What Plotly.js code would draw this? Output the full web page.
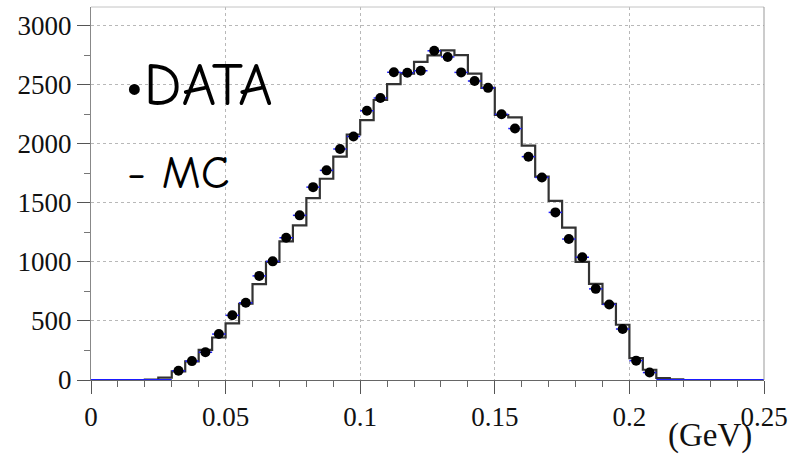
<!DOCTYPE html>
<html>
<head>
<meta charset="utf-8">
<script src="https://cdn.plot.ly/plotly-3.0.1.min.js"></script>
<style>
  html, body { margin: 0; padding: 0; background: #fff; }
  #chart { width: 791px; height: 456px; }
</style>
</head>
<body>
<div id="chart"></div>
<script>
// Histogram binning (GeV)
const xMin = 0;
const binWidth = 0.005;
const nBins = 50;

// Monte Carlo expectation, one value per bin
const mcCounts = [
  0, 0, 0, 0, 3, 20, 73, 157, 256, 360,
  479, 646, 812, 1000, 1175, 1310, 1540, 1705, 1892, 2080,
  2202, 2372, 2507, 2595, 2695, 2750, 2792, 2752, 2595, 2474,
  2245, 2225, 1985, 1723, 1517, 1291, 1000, 815, 645, 468,
  186, 87, 17, 5, 0, 0, 0, 0, 0, 0
];

// Measured data, one value per bin
const dataCounts = [
  0, 0, 0, 0, 0, 0, 78, 160, 235, 389,
  548, 654, 882, 1005, 1205, 1395, 1634, 1776, 1957, 2063,
  2281, 2389, 2607, 2603, 2620, 2789, 2737, 2606, 2533, 2475,
  2251, 2130, 1892, 1716, 1420, 1194, 1040, 772, 640, 432,
  164, 63, 0, 0, 0, 0, 0, 0, 0, 0
];

// Axis tick labels
const xTickVals = [0, 0.05, 0.1, 0.15, 0.2, 0.25];
const xTickText = ['0', '0.05', '0.1', '0.15', '0.2', '0.25'];
const yTickVals = [0, 500, 1000, 1500, 2000, 2500, 3000];
const yTickText = ['0', '500', '1000', '1500', '2000', '2500', '3000'];

const legendData = '\u2022DATA';
const legendMC = '- MC';
const unitLabel = '(GeV)';

// ---- derived geometry from the binning ----
const binLow = i => xMin + i * binWidth;

// MC as a step outline: each bin's level starts at its low edge
const mcX = [], mcY = [];
for (let i = 0; i < nBins; i++) { mcX.push(binLow(i)); mcY.push(mcCounts[i]); }
mcX.push(binLow(nBins)); mcY.push(mcCounts[nBins - 1]);

// Empty data bins drawn as a flat line at zero
const zeroX = [], zeroY = [];
for (let i = 0; i < nBins; i++) {
  if (dataCounts[i] === 0) {
    const prevZero = i > 0 && dataCounts[i - 1] === 0;
    if (!prevZero) {
      if (zeroX.length) { zeroX.push(null); zeroY.push(null); }
      zeroX.push(binLow(i)); zeroY.push(dataCounts[i]);
    }
    zeroX.push(binLow(i + 1)); zeroY.push(dataCounts[i]);
  }
}

// Filled data bins drawn as points at bin centres
const ptX = [], ptY = [], ptErrX = [];
for (let i = 0; i < nBins; i++) {
  if (dataCounts[i] > 0) {
    ptX.push(binLow(i) + binWidth / 2);
    ptY.push(dataCounts[i]);
    ptErrX.push(binWidth / 2);
  }
}

const traces = [
  {
    x: mcX, y: mcY, type: 'scatter', mode: 'lines',
    line: { color: '#333', width: 2.2, shape: 'hv' },
    hoverinfo: 'skip', showlegend: false
  },
  {
    x: zeroX, y: zeroY, type: 'scatter', mode: 'lines',
    line: { color: '#1a1aff', width: 2 },
    hoverinfo: 'skip', showlegend: false
  },
  {
    x: ptX, y: ptY, type: 'scatter', mode: 'markers',
    marker: { color: '#000', size: 10, symbol: 'circle' },
    error_x: { type: 'data', array: ptErrX, visible: true, color: '#2020ff', thickness: 1.5, width: 0 },
    hoverinfo: 'skip', showlegend: false
  }
];

const serif = 'Liberation Serif';
const tickFont = { family: serif, size: 27, color: '#111' };
const handFamily = '"Comic Sans MS", "Comic Neue", "DejaVu Sans", sans-serif';

const layout = {
  width: 791, height: 456,
  margin: { l: 91, r: 27, t: 7, b: 76, pad: 0 },
  paper_bgcolor: '#fff', plot_bgcolor: '#fff',
  showlegend: false,
  xaxis: {
    range: [0, 0.25],
    tickmode: 'array', tickvals: xTickVals, ticktext: xTickText,
    ticks: 'outside', ticklen: 13, tickwidth: 1, tickcolor: '#555',
    showline: true, linecolor: '#666', linewidth: 1,
    showgrid: true, gridcolor: '#b8b8b8', griddash: 'dot', gridwidth: 1,
    zeroline: false,
    minor: { dtick: 0.01, tick0: 0, ticks: 'outside', ticklen: 6, tickcolor: '#666', showgrid: false },
    tickfont: tickFont
  },
  yaxis: {
    range: [0, 3160],
    tickmode: 'array', tickvals: yTickVals, ticktext: yTickText,
    ticks: 'outside', ticklen: 13, tickwidth: 1, tickcolor: '#555',
    showline: true, linecolor: '#888', linewidth: 1,
    showgrid: true, gridcolor: '#b8b8b8', griddash: 'dot', gridwidth: 1,
    zeroline: false,
    minor: { dtick: 250, tick0: 0, ticks: 'outside', ticklen: 6, tickcolor: '#777', showgrid: false },
    tickfont: tickFont
  },
  shapes: [
    { type: 'line', xref: 'paper', yref: 'paper', x0: 0, x1: 1, y0: 1, y1: 1,
      line: { color: '#c4c4c4', width: 1 } },
    { type: 'line', xref: 'paper', yref: 'paper', x0: 1, x1: 1, y0: 0, y1: 1,
      line: { color: '#999', width: 1 } }
  ],
  annotations: [
    { text: legendData, xref: 'paper', yref: 'paper', x: 0.048, y: 0.79,
      xanchor: 'left', yanchor: 'middle', showarrow: false,
      font: { family: handFamily, size: 60, color: '#000' } },
    { text: legendMC, xref: 'paper', yref: 'paper', x: 0.05, y: 0.555,
      xanchor: 'left', yanchor: 'middle', showarrow: false,
      font: { family: handFamily, size: 47, color: '#000' } },
    { text: unitLabel, xref: 'paper', yref: 'paper', x: 0.855, y: -0.15,
      xanchor: 'left', yanchor: 'middle', showarrow: false,
      font: { family: serif, size: 33, color: '#111' } }
  ]
};

Plotly.newPlot('chart', traces, layout, { staticPlot: true, displayModeBar: false });
</script>
</body>
</html>
